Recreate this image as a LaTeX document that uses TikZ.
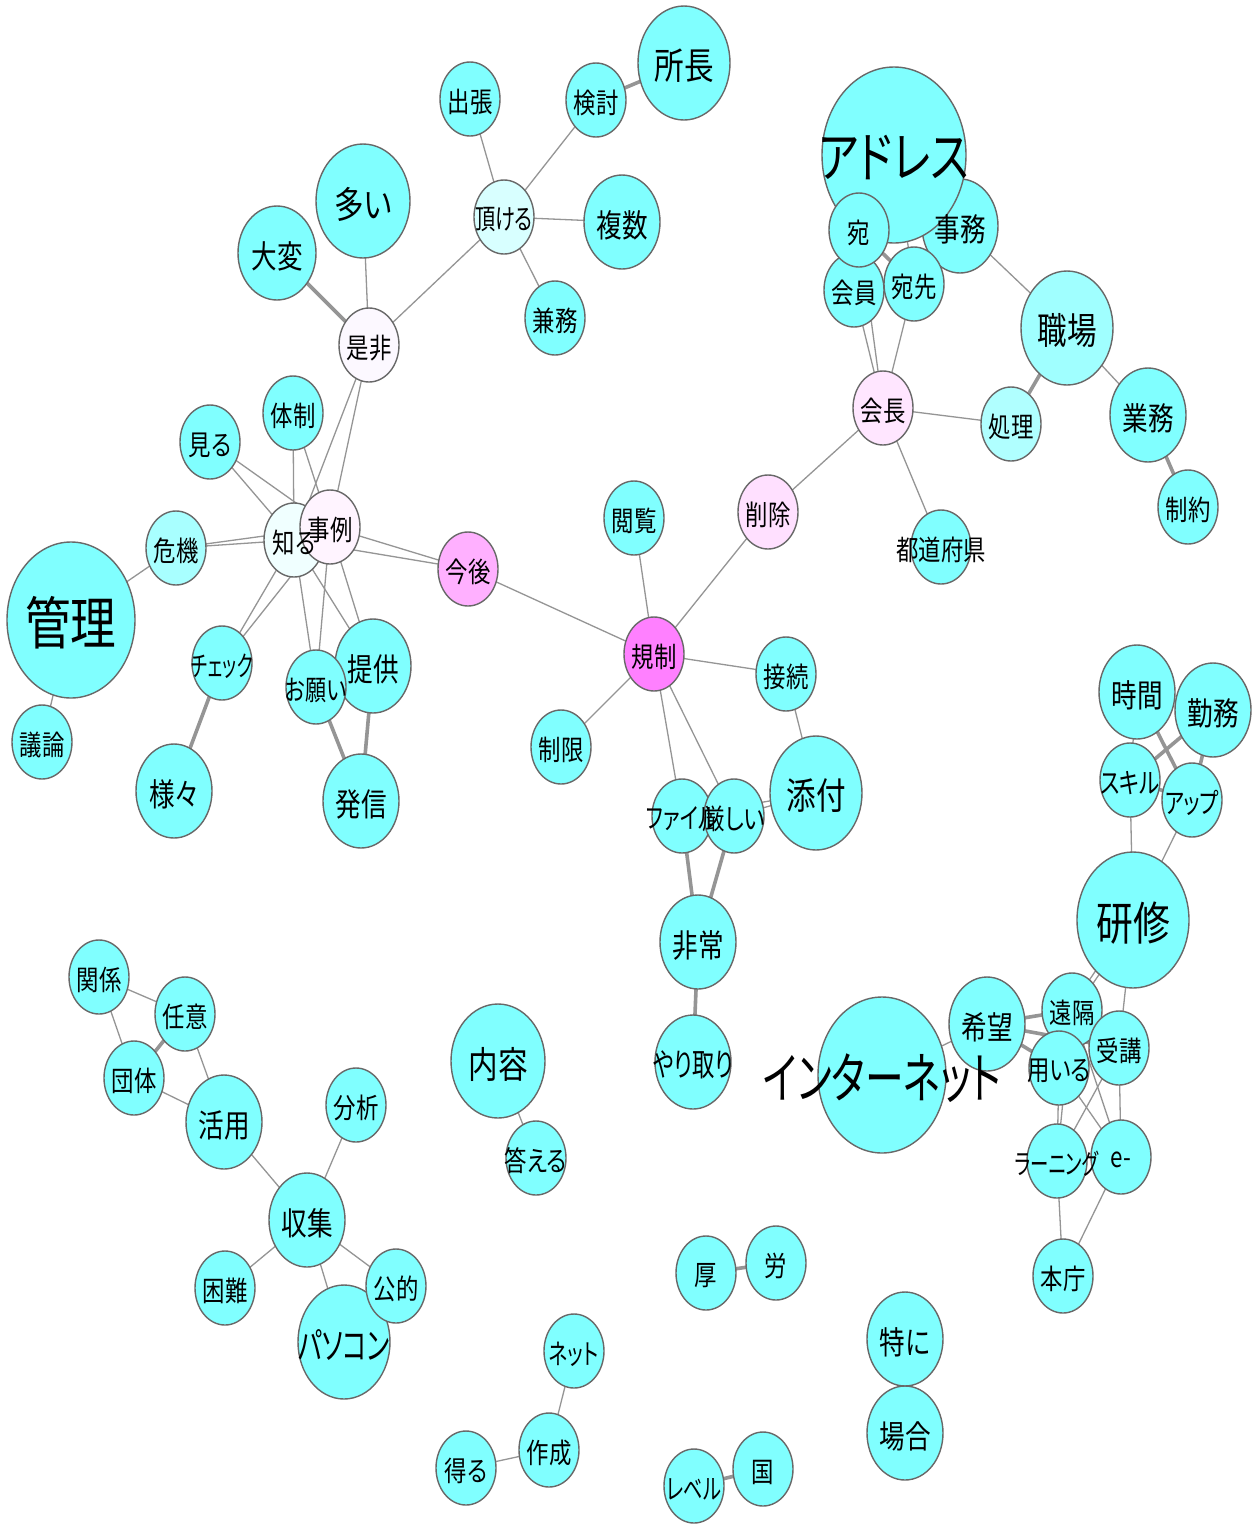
\documentclass[tikz,border=0pt]{standalone}
\usepackage{fontspec}
\usepackage{graphicx}
\usetikzlibrary{shapes.geometric}
\newfontfamily\jp[FakeStretch=0.8,RawFeature={+palt}]{Noto Sans CJK JP}
\definecolor{cy}{HTML}{80FFFF}
\definecolor{cI}{HTML}{D8FFFF}
\definecolor{cZ}{HTML}{FCF8FF}
\definecolor{cK}{HTML}{A8FFFF}
\definecolor{cS}{HTML}{F0FFFF}
\definecolor{cJ}{HTML}{FFF4FF}
\definecolor{cKo}{HTML}{FFB0FF}
\definecolor{cSa}{HTML}{FFE0FF}
\definecolor{cKi}{HTML}{FF80FF}
\definecolor{cKc}{HTML}{FFE6FF}
\definecolor{cSh}{HTML}{B0FFFF}
\definecolor{cSk}{HTML}{A0FFFF}
\definecolor{edgec}{HTML}{959595}
\definecolor{bordc}{HTML}{686868}
\pgfdeclarelayer{bg}
\pgfsetlayers{bg,main}
\tikzset{
  vtx/.style={ellipse, draw=bordc, line width=1.4pt, inner sep=0pt, outer sep=0pt},
  lab/.style={inner sep=0pt, text=black, yshift=-3pt},
  fS/.style={font=\jp\fontsize{28}{30}\selectfont},
  fM/.style={font=\jp\fontsize{32}{34}\selectfont},
  fL/.style={font=\jp\fontsize{37}{40}\selectfont},
  fXL/.style={font=\jp\fontsize{46}{50}\selectfont},
  fXXL/.style={font=\jp\fontsize{55}{60}\selectfont},
  ed/.style={draw=edgec, line width=1.3pt},
  et/.style={draw=edgec, line width=3.6pt},
}
\newcommand\vx[6]{\node[vtx, fill=#6, minimum width=#4pt, minimum height=#5pt] (#1) at (#2,#3) {};}
\newcommand\lb[3]{\node[lab, #2] (#1-t) at (#1) {#3};}
\newcommand\lbs[4]{\node[lab, #2] (#1-t) at (#1) {\scalebox{#3}[1]{#4}};}
\begin{document}
\begin{tikzpicture}[x=1pt,y=-1pt]
\useasboundingbox (0,0) rectangle (1254,1524);
% vertices
\vx{shocho}{684}{63}{92}{114}{cy}
\vx{kento}{596}{100}{60}{74}{cy}
\vx{shucho}{470}{99}{60}{74}{cy}
\vx{itadaku}{504}{217}{60}{74}{cI}
\vx{fukusu}{622}{222}{76}{94}{cy}
\vx{kenmu}{555}{318}{60}{74}{cy}
\vx{ooi}{363}{201}{94}{114}{cy}
\vx{taihen}{277}{253}{78}{94}{cy}
\vx{zehi}{369}{345}{60}{74}{cZ}
\vx{taisei}{293}{413}{60}{74}{cy}
\vx{miru}{210}{442}{60}{74}{cy}
\vx{kiki}{176}{548}{60}{74}{cK}
\vx{shiru}{294}{540}{60}{74}{cS}
\vx{jirei}{330}{527}{60}{74}{cJ}
\vx{kongo}{468}{569}{60}{74}{cKo}
\vx{kanri}{71}{620}{128}{156}{cy}
\vx{giron}{42}{742}{60}{74}{cy}
\vx{check}{222}{663}{60}{74}{cy}
\vx{samazama}{174}{791}{76}{94}{cy}
\vx{teikyo}{373}{666}{76}{94}{cy}
\vx{onegai}{316}{687}{60}{74}{cy}
\vx{hasshin}{361}{801}{76}{94}{cy}
\vx{etsuran}{634}{518}{60}{74}{cy}
\vx{sakujo}{768}{512}{60}{74}{cSa}
\vx{kisei}{654}{654}{60}{74}{cKi}
\vx{setsuzoku}{786}{674}{60}{74}{cy}
\vx{seigen}{561}{747}{60}{74}{cy}
\vx{file}{682}{816}{60}{74}{cy}
\vx{kibishii}{734}{816}{60}{74}{cy}
\vx{tenpu}{816}{793}{92}{114}{cy}
\vx{hijo}{698}{942}{76}{94}{cy}
\vx{yaritori}{693}{1062}{76}{94}{cy}
\vx{jimu}{960}{226}{76}{94}{cy}
\vx{address}{894}{155}{144}{176}{cy}
\vx{kaiin}{854}{290}{60}{74}{cy}
\vx{ate}{859}{230}{60}{74}{cy}
\vx{atesaki}{914}{284}{60}{74}{cy}
\vx{kaicho}{883}{408}{60}{74}{cKc}
\vx{shori}{1011}{424}{60}{74}{cSh}
\vx{shokuba}{1067}{328}{92}{114}{cSk}
\vx{gyomu}{1148}{415}{76}{94}{cy}
\vx{seiyaku}{1188}{507}{60}{74}{cy}
\vx{todofuken}{941}{547}{60}{74}{cy}
\vx{jikan}{1137}{692}{76}{94}{cy}
\vx{kinmu}{1213}{710}{76}{94}{cy}
\vx{skill}{1130}{780}{60}{74}{cy}
\vx{up}{1192}{800}{60}{74}{cy}
\vx{kenshu}{1133}{920}{112}{136}{cy}
\vx{kibo}{987}{1024}{76}{94}{cy}
\vx{enkaku}{1072}{1010}{60}{74}{cy}
\vx{mochiiru}{1059}{1068}{60}{74}{cy}
\vx{juko}{1119}{1048}{60}{74}{cy}
\vx{learning}{1057}{1161}{60}{74}{cy}
\vx{eminus}{1121}{1157}{60}{74}{cy}
\vx{honcho}{1063}{1276}{60}{74}{cy}
\vx{internet}{882}{1075}{128}{156}{cy}
\vx{kankei}{99}{977}{60}{74}{cy}
\vx{nini}{185}{1014}{60}{74}{cy}
\vx{dantai}{134}{1078}{60}{74}{cy}
\vx{katsuyo}{224}{1122}{76}{94}{cy}
\vx{bunseki}{356}{1105}{60}{74}{cy}
\vx{shushu}{307}{1220}{76}{94}{cy}
\vx{konnan}{225}{1288}{60}{74}{cy}
\vx{pasokon}{344}{1342}{92}{114}{cy}
\vx{koteki}{396}{1286}{60}{74}{cy}
\vx{naiyo}{498}{1061}{94}{114}{cy}
\vx{kotaeru}{536}{1158}{60}{74}{cy}
\vx{ko}{706}{1273}{60}{74}{cy}
\vx{ro}{776}{1263}{60}{74}{cy}
\vx{net}{574}{1351}{60}{74}{cy}
\vx{sakusei}{549}{1450}{60}{74}{cy}
\vx{eru}{466}{1468}{60}{74}{cy}
\vx{level}{694}{1486}{60}{74}{cy}
\vx{kuni}{763}{1469}{60}{74}{cy}
\vx{tokuni}{905}{1339}{76}{94}{cy}
\vx{baai}{905}{1433}{76}{94}{cy}
% labels
\lb{shocho}{fL}{所長}
\lb{kento}{fS}{検討}
\lb{shucho}{fS}{出張}
\lbs{itadaku}{fS}{0.9}{頂ける}
\lb{fukusu}{fM}{複数}
\lb{kenmu}{fS}{兼務}
\lb{ooi}{fL}{多い}
\lb{taihen}{fM}{大変}
\lb{zehi}{fS}{是非}
\lb{taisei}{fS}{体制}
\lb{miru}{fS}{見る}
\lb{kiki}{fS}{危機}
\lb{shiru}{fS}{知る}
\lb{jirei}{fS}{事例}
\lb{kongo}{fS}{今後}
\lb{kanri}{font=\jp\fontsize{57}{60}\selectfont}{管理}
\lb{giron}{fS}{議論}
\lbs{check}{fS}{0.8}{チェック}
\lb{samazama}{fM}{様々}
\lb{teikyo}{fM}{提供}
\lbs{onegai}{fS}{0.94}{お願い}
\lb{hasshin}{fM}{発信}
\lb{etsuran}{fS}{閲覧}
\lb{sakujo}{fS}{削除}
\lb{kisei}{fS}{規制}
\lb{setsuzoku}{fS}{接続}
\lb{seigen}{fS}{制限}
\lbs{file}{fS}{0.92}{ファイル}
\lb{kibishii}{fS}{厳しい}
\lb{tenpu}{fL}{添付}
\lb{hijo}{fM}{非常}
\lbs{yaritori}{fM}{0.87}{やり取り}
\lb{jimu}{fM}{事務}
\lbs{address}{fXXL}{0.97}{アドレス}
\lb{kaiin}{fS}{会員}
\lb{ate}{fS}{宛}
\lb{atesaki}{fS}{宛先}
\lb{kaicho}{fS}{会長}
\lb{shori}{fS}{処理}
\lb{shokuba}{fL}{職場}
\lb{gyomu}{fM}{業務}
\lb{seiyaku}{fS}{制約}
\lb{todofuken}{fS}{都道府県}
\lb{jikan}{fM}{時間}
\lb{kinmu}{fM}{勤務}
\lbs{skill}{fS}{0.96}{スキル}
\lbs{up}{fS}{0.92}{アップ}
\lb{kenshu}{fXL}{研修}
\lb{kibo}{fM}{希望}
\lb{enkaku}{fS}{遠隔}
\lb{mochiiru}{fS}{用いる}
\lb{juko}{fS}{受講}
\lbs{learning}{fS}{0.82}{ラーニング}
\lb{eminus}{fS}{e-}
\lb{honcho}{fS}{本庁}
\lbs{internet}{fXXL}{0.88}{インターネット}
\lb{kankei}{fS}{関係}
\lb{nini}{fS}{任意}
\lb{dantai}{fS}{団体}
\lb{katsuyo}{fM}{活用}
\lb{bunseki}{fS}{分析}
\lb{shushu}{fM}{収集}
\lb{konnan}{fS}{困難}
\lbs{pasokon}{fL}{0.86}{パソコン}
\lb{koteki}{fS}{公的}
\lb{naiyo}{fL}{内容}
\lb{kotaeru}{fS}{答える}
\lb{ko}{fS}{厚}
\lb{ro}{fS}{労}
\lbs{net}{fS}{0.88}{ネット}
\lb{sakusei}{fS}{作成}
\lb{eru}{fS}{得る}
\lbs{level}{fS}{0.86}{レベル}
\lb{kuni}{fS}{国}
\lb{tokuni}{fM}{特に}
\lb{baai}{fM}{場合}
% edges
\begin{pgfonlayer}{bg}
\fill[white] (0,0) rectangle (1254,1524);
\draw[et] (shocho) -- (kento);
\draw[ed] (kento) -- (itadaku);
\draw[ed] (shucho) -- (itadaku);
\draw[ed] (itadaku) -- (fukusu);
\draw[ed] (itadaku) -- (kenmu);
\draw[ed] (itadaku) -- (zehi);
\draw[ed] (ooi) -- (zehi);
\draw[et] (taihen) -- (zehi);
\draw[ed] (zehi) -- (shiru);
\draw[ed] (zehi) -- (jirei);
\draw[ed] (taisei) -- (shiru);
\draw[ed] (taisei) -- (jirei);
\draw[ed] (miru) -- (shiru);
\draw[ed] (miru) -- (jirei);
\draw[ed] (kiki) -- (shiru);
\draw[ed] (kiki) -- (jirei);
\draw[ed] (kanri) -- (kiki);
\draw[ed] (kanri) -- (giron);
\draw[ed] (shiru) -- (kongo);
\draw[ed] (jirei) -- (kongo);
\draw[ed] (shiru) -- (check);
\draw[ed] (jirei) -- (check);
\draw[et] (check) -- (samazama);
\draw[ed] (shiru) -- (onegai);
\draw[ed] (jirei) -- (onegai);
\draw[ed] (shiru) -- (teikyo);
\draw[ed] (jirei) -- (teikyo);
\draw[et] (onegai) -- (hasshin);
\draw[et] (teikyo) -- (hasshin);
\draw[ed] (kongo) -- (kisei);
\draw[ed] (etsuran) -- (kisei);
\draw[ed] (kisei) -- (sakujo);
\draw[ed] (sakujo) -- (kaicho);
\draw[ed] (kisei) -- (setsuzoku);
\draw[ed] (kisei) -- (seigen);
\draw[ed] (kisei) -- (file);
\draw[ed] (kisei) -- (kibishii);
\draw[ed] (setsuzoku) -- (tenpu);
\draw[ed] (file) -- (tenpu);
\draw[ed] (kibishii) -- (tenpu);
\draw[et] (file) -- (hijo);
\draw[et] (kibishii) -- (hijo);
\draw[et] (hijo) -- (yaritori);
\draw[ed] (kaicho) -- (kaiin);
\draw[ed] (kaicho) -- (ate);
\draw[ed] (kaicho) -- (atesaki);
\draw[ed] (kaicho) -- (shori);
\draw[ed] (kaicho) -- (todofuken);
\draw[ed] (address) -- (ate);
\draw[ed] (address) -- (atesaki);
\draw[ed] (address) -- (jimu);
\draw[et] (ate) -- (atesaki);
\draw[ed] (ate) -- (kaiin);
\draw[ed] (jimu) -- (atesaki);
\draw[ed] (jimu) -- (shokuba);
\draw[et] (shori) -- (shokuba);
\draw[ed] (shokuba) -- (gyomu);
\draw[et] (gyomu) -- (seiyaku);
\draw[ed] (jikan) -- (skill);
\draw[et] (jikan) -- (up);
\draw[et] (kinmu) -- (skill);
\draw[et] (kinmu) -- (up);
\draw[et] (skill) -- (up);
\draw[ed] (skill) -- (kenshu);
\draw[ed] (up) -- (kenshu);
\draw[ed] ([xshift=-3pt]kenshu.center) -- ([xshift=-3pt]enkaku.center);
\draw[ed] ([xshift=3pt]kenshu.center) -- ([xshift=3pt]enkaku.center);
\draw[ed] (kenshu) -- (juko);
\draw[et] (kibo) -- (enkaku);
\draw[et] (kibo) -- (mochiiru);
\draw[et] (kibo) -- (juko);
\draw[ed] (kibo) -- (internet);
\draw[ed] (enkaku) -- (juko);
\draw[ed] (mochiiru) -- (learning);
\draw[ed] (enkaku) -- (learning);
\draw[ed] (mochiiru) -- (eminus);
\draw[ed] (enkaku) -- (eminus);
\draw[ed] (juko) -- (learning);
\draw[ed] (juko) -- (eminus);
\draw[ed] (learning) -- (honcho);
\draw[ed] (eminus) -- (honcho);
\draw[ed] (kankei) -- (nini);
\draw[ed] (kankei) -- (dantai);
\draw[et] (nini) -- (dantai);
\draw[ed] (nini) -- (katsuyo);
\draw[ed] (dantai) -- (katsuyo);
\draw[ed] (katsuyo) -- (shushu);
\draw[ed] (bunseki) -- (shushu);
\draw[ed] (shushu) -- (konnan);
\draw[ed] (shushu) -- (koteki);
\draw[ed] (shushu) -- (pasokon);
\draw[ed] (naiyo) -- (kotaeru);
\draw[et] (ko) -- (ro);
\draw[ed] (net) -- (sakusei);
\draw[ed] (sakusei) -- (eru);
\draw[et] (level) -- (kuni);
\draw[ed] (tokuni) -- (baai);
\end{pgfonlayer}
\end{tikzpicture}
\end{document}
